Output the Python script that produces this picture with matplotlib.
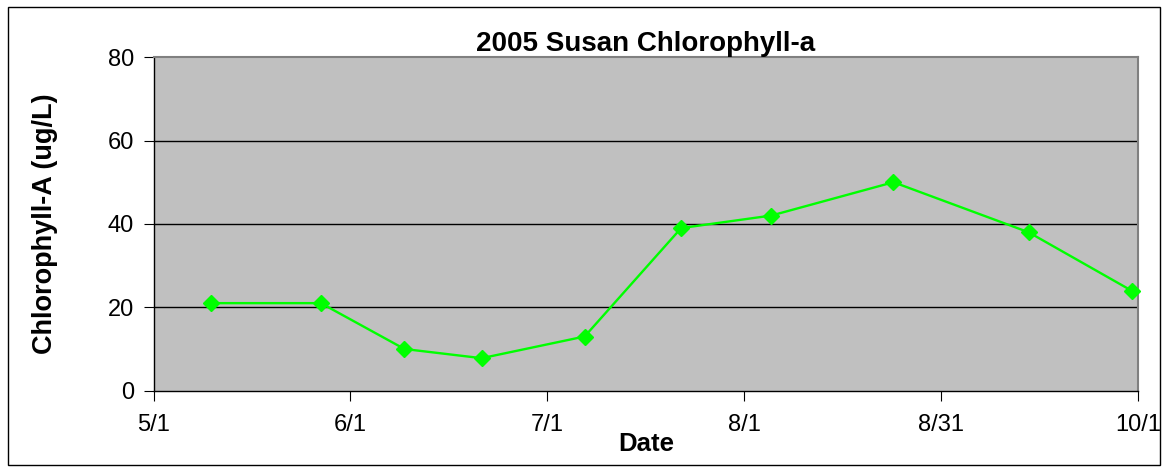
"""2005 Susan Chlorophyll-a line chart."""
import numpy as np
import pandas as pd
import matplotlib
matplotlib.use("Agg")
import matplotlib.pyplot as plt
import matplotlib.dates as mdates
from matplotlib.patches import Rectangle

plt.rcParams['font.family'] = ['Liberation Sans', 'DejaVu Sans']

# sample dates and chlorophyll-a readings
dates = ['2005-05-10', '2005-05-27', '2005-06-09', '2005-06-21', '2005-07-07',
         '2005-07-22', '2005-08-05', '2005-08-24', '2005-09-14', '2005-09-30']
chl_a = [21, 21, 10, 7.8, 13, 39, 42, 50, 38, 24]

x_start, x_end = '2005-05-01', '2005-10-01'
x_labels = ['5/1', '6/1', '7/1', '8/1', '8/31', '10/1']
y_ticks = [0, 20, 40, 60, 80]

x = mdates.date2num(pd.to_datetime(dates))
x0 = mdates.date2num(pd.Timestamp(x_start))
x1 = mdates.date2num(pd.Timestamp(x_end))

fig = plt.figure(figsize=(11.65, 4.7), dpi=100)
ax = fig.add_axes([0.1318, 0.1687, 0.845, 0.7098])
ax.set_facecolor('#C0C0C0')

# Excel-style gridlines on the value axis
for v in y_ticks[1:-1]:
    ax.axhline(v, color='black', lw=1, zorder=1)

ax.plot(x, chl_a, color='#00FF00', lw=1.7, marker='D', markersize=8,
        zorder=3, clip_on=False)

ax.set_xlim(x0, x1)
ax.set_ylim(0, 80)
ax.set_xticks(np.linspace(x0, x1, len(x_labels)))
ax.set_xticklabels(x_labels)
ax.set_yticks(y_ticks)
ax.tick_params(axis='x', length=7, pad=10, labelsize=17, color='black')
ax.tick_params(axis='y', length=7, pad=7, labelsize=17, color='black')

for side in ['top', 'right']:
    ax.spines[side].set_color('#808080')
    ax.spines[side].set_linewidth(1.5)
for side in ['left', 'bottom']:
    ax.spines[side].set_color('black')
    ax.spines[side].set_linewidth(1)

ax.set_title('2005 Susan Chlorophyll-a', fontsize=20, fontweight='bold', pad=4)
ax.set_xlabel('Date', fontsize=18.5, fontweight='bold', labelpad=-3)
ax.set_ylabel('Chlorophyll-A (ug/L)', fontsize=19.5, fontweight='bold', labelpad=36)

# outer chart border
fig.patches.append(Rectangle((0.007, 0.01), 0.989, 0.975, transform=fig.transFigure,
                             fill=False, edgecolor='black', lw=1))

fig.savefig('out.png', dpi=100)
